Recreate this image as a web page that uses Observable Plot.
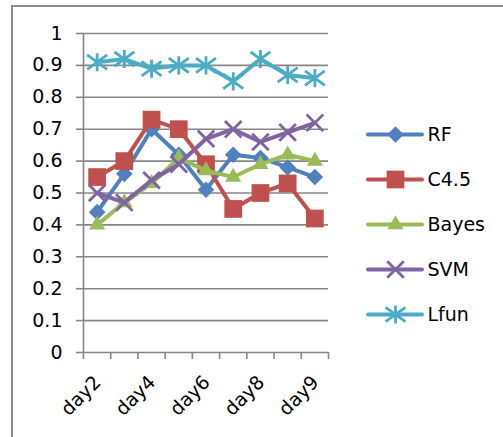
<!DOCTYPE html>
<html><head><meta charset="utf-8">
<script src="https://cdn.jsdelivr.net/npm/d3@7"></script>
<script src="https://cdn.jsdelivr.net/npm/@observablehq/plot@0.6"></script>
<style>
body{margin:0;background:#fff;}
#wrap{position:relative;width:503px;height:437px;overflow:hidden;font-family:"DejaVu Sans",sans-serif;background:#fff;}
#frame{position:absolute;left:11px;top:5px;width:492px;height:432px;border-top:2px solid #8c8c8c;border-left:2px solid #8c8c8c;}
#chart{position:absolute;left:0;top:0;}
#legend{position:absolute;left:360px;top:110px;}
svg{overflow:visible;}
</style></head><body>
<div id="wrap"><div id="frame"></div><div id="chart"></div><div id="legend"></div></div>
<script>
// ---- data ----
const dayIndex = [1,2,3,4,5,6,7,8,9];
const tickPositions = [1,3,5,7,9];
const tickLabels = ["day2","day4","day6","day8","day9"];
const yTicks = [0,0.1,0.2,0.3,0.4,0.5,0.6,0.7,0.8,0.9,1];
const seriesNames = ["RF","C4.5","Bayes","SVM","Lfun"];
const seriesColors = ["#4F81BD","#C0504D","#9BBB59","#8064A2","#4BACC6"];
const rf    = [0.44,0.56,0.70,0.62,0.51,0.62,0.61,0.58,0.55];
const c45   = [0.55,0.60,0.73,0.70,0.59,0.45,0.50,0.53,0.42];
const bayes = [0.40,0.47,0.53,0.61,0.57,0.55,0.59,0.62,0.60];
const svm   = [0.50,0.47,0.54,0.59,0.67,0.70,0.66,0.69,0.72];
const lfun  = [0.91,0.92,0.89,0.90,0.90,0.85,0.92,0.87,0.86];
const seriesValues = [rf, c45, bayes, svm, lfun];

// Excel-like star marker (vertical bar + X)
const excelStar = {
  draw(ctx, size) {
    const r = Math.sqrt(size) * 0.6;
    ctx.moveTo(0, -r); ctx.lineTo(0, r);
    ctx.moveTo(-r * 1.1, -r * 0.8); ctx.lineTo(r * 1.1, r * 0.8);
    ctx.moveTo(-r * 1.1, r * 0.8); ctx.lineTo(r * 1.1, -r * 0.8);
  }
};
const markerStyles = [
  {symbol: "square", r: 6.6, rotate: 45, filled: true},
  {symbol: "square", r: 10, rotate: 0, filled: true},
  {symbol: "triangle", r: 6.0, rotate: 0, filled: true},
  {symbol: "times", r: 7.6, rotate: 0, filled: false},
  {symbol: excelStar, r: 8.5, rotate: 0, filled: false}
];

const gridColor = "#868686";
const xBounds = d3.range(0.5, 10, 1);
const FS = 19;

const marks = [
  Plot.gridY(yTicks, {stroke: gridColor, strokeOpacity: 1, strokeWidth: 1.6}),
  Plot.ruleX([0.5], {y1: 0, y2: 1, stroke: gridColor, strokeWidth: 1.6}),
  Plot.axisY(yTicks, {tickSize: 7, tickPadding: 14, stroke: gridColor, strokeWidth: 1.6, fill: "#000", fontSize: FS, tickFormat: d => String(d), label: null}),
  Plot.axisX(xBounds, {tickSize: 7, stroke: gridColor, strokeWidth: 1.6, tickFormat: () => "", label: null}),
  Plot.text(tickPositions, {x: d => d, y: () => 0, text: (d, i) => tickLabels[i], rotate: -45, textAnchor: "end", lineAnchor: "bottom", dx: 5, dy: 31, fontSize: FS, fill: "#000"})
];
seriesNames.forEach((name, k) => {
  const rows = dayIndex.map((d, i) => ({day: d, value: seriesValues[k][i]}));
  const m = markerStyles[k];
  marks.push(Plot.line(rows, {x: "day", y: "value", stroke: seriesColors[k], strokeWidth: 4, strokeLinejoin: "round"}));
  marks.push(Plot.dot(rows, {x: "day", y: "value", symbol: m.symbol, r: m.r, rotate: m.rotate,
    fill: m.filled ? seriesColors[k] : "none", stroke: seriesColors[k], strokeWidth: m.filled ? 0 : 2.8}));
});

const chart = Plot.plot({
  width: 503, height: 437,
  marginLeft: 83, marginRight: 175, marginTop: 33, marginBottom: 85,
  style: {fontFamily: "'DejaVu Sans', sans-serif", fontSize: FS + "px", background: "transparent", overflow: "visible"},
  x: {domain: [0.5, 9.5], axis: null},
  y: {domain: [0, 1], axis: null},
  marks
});
document.getElementById("chart").appendChild(chart);

// ---- legend ----
const legendMarks = [];
seriesNames.forEach((name, k) => {
  const m = markerStyles[k];
  legendMarks.push(Plot.ruleY([name], {y: d => d, x1: 0, x2: 1, stroke: seriesColors[k], strokeWidth: 4, strokeLinecap: "round"}));
  legendMarks.push(Plot.dot([name], {y: d => d, x: () => 0.5, symbol: m.symbol, r: m.r, rotate: m.rotate,
    fill: m.filled ? seriesColors[k] : "none", stroke: seriesColors[k], strokeWidth: m.filled ? 0 : 2.8}));
  legendMarks.push(Plot.text([name], {y: d => d, x: () => 1, text: d => d, textAnchor: "start", dx: 5, fontSize: FS, fill: "#000"}));
});
const legend = Plot.plot({
  width: 143, height: 230,
  marginLeft: 8, marginRight: 81, marginTop: 23, marginBottom: 25,
  style: {fontFamily: "'DejaVu Sans', sans-serif", fontSize: FS + "px", background: "transparent", overflow: "visible"},
  x: {domain: [0, 1], axis: null},
  y: {type: "point", domain: seriesNames, padding: 0, axis: null},
  marks: legendMarks
});
document.getElementById("legend").appendChild(legend);
</script>
</body></html>
